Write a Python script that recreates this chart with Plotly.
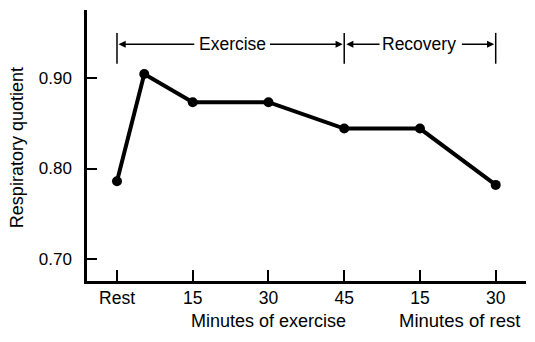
import plotly.graph_objects as go

# Data (minutes from start; rest period counted after 45 min of exercise)
minutes = [0, 5.4, 15, 30, 45, 60, 75]
rq = [0.786, 0.904, 0.873, 0.873, 0.844, 0.844, 0.782]

tick_vals = [0, 15, 30, 45, 60, 75]
tick_text = ["Rest", "15", "30", "45", "15", "30"]
y_ticks = [0.70, 0.80, 0.90]
y_text = ["0.70", "0.80", "0.90"]

FONT = "Liberation Sans, Arial, Helvetica, sans-serif"

fig = go.Figure()
fig.add_trace(go.Scatter(
    x=minutes, y=rq, mode="lines+markers",
    line=dict(color="black", width=4),
    marker=dict(color="black", size=10),
    hoverinfo="skip", showlegend=False,
))

# Bracket lines (vertical bars)
bar_lo, bar_hi, arrow_y = 0.9154, 0.9493, 0.9368
for xv in [0, 45, 75]:
    fig.add_shape(type="line", xref="x", yref="y", x0=xv, x1=xv, y0=bar_lo, y1=bar_hi,
                  line=dict(color="black", width=1.5))

# Arrows: (tail, head)
arrows = [(15.6, 0.3), (30.0, 44.7), (52.3, 45.4), (68.0, 74.7)]
for tail, head in arrows:
    fig.add_annotation(x=head, y=arrow_y, ax=tail, ay=arrow_y, xref="x", yref="y",
                       axref="x", ayref="y", text="", showarrow=True,
                       arrowhead=2, arrowsize=1.1, arrowwidth=1.3, arrowcolor="black")

fig.add_annotation(x=22.85, y=arrow_y, xref="x", yref="y", text="Exercise", showarrow=False,
                   font=dict(size=17.5, color="black", family=FONT))
fig.add_annotation(x=59.9, y=arrow_y, xref="x", yref="y", text="Recovery", showarrow=False,
                   font=dict(size=17.5, color="black", family=FONT))

# Axis titles
fig.add_annotation(x=30.1, y=-0.146, xref="x", yref="paper", yanchor="middle",
                   text="Minutes of exercise", showarrow=False,
                   font=dict(size=18, color="black", family=FONT))
fig.add_annotation(x=67.9, y=-0.146, xref="x", yref="paper", yanchor="middle",
                   text="Minutes of rest", showarrow=False,
                   font=dict(size=18.5, color="black", family=FONT))
fig.add_annotation(x=-0.159, y=0.491, xref="paper", yref="paper", xanchor="center",
                   yanchor="middle", text="Respiratory quotient",
                   textangle=-90, showarrow=False, font=dict(size=18, color="black", family=FONT))

fig.update_layout(
    width=535, height=342,
    margin=dict(l=87, r=9, t=10, b=61),
    paper_bgcolor="white", plot_bgcolor="white",
    font=dict(family=FONT, size=17, color="black"),
    xaxis=dict(range=[-5.94, 81.0], tickvals=tick_vals, ticktext=tick_text,
               showline=True, linecolor="black", linewidth=3, ticks="inside",
               ticklen=11, tickwidth=1.5, tickcolor="black", showgrid=False,
               zeroline=False, ticklabelstandoff=-1, fixedrange=True,
               tickfont=dict(size=17.5)),
    yaxis=dict(range=[0.6762, 0.9745], tickvals=y_ticks, ticktext=y_text,
               showline=True, linecolor="black", linewidth=2.5, ticks="inside",
               ticklen=10, tickwidth=1.5, tickcolor="black", showgrid=False,
               zeroline=False, ticklabelstandoff=9, fixedrange=True,
               tickfont=dict(size=17)),
)

fig.write_html("out.html")
